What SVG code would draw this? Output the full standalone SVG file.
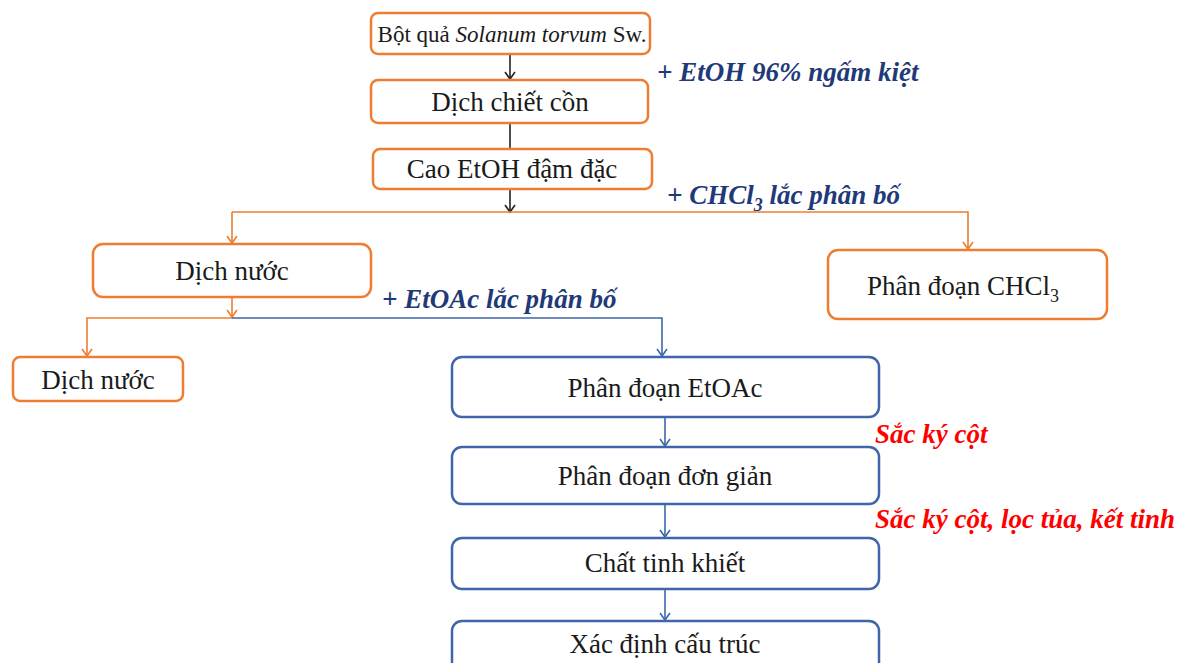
<svg xmlns="http://www.w3.org/2000/svg" width="1185" height="663" viewBox="0 0 1185 663">
<defs>
<style>
.bo{fill:#fff;stroke:#ED7D31;stroke-width:2.5}
.bb{fill:#fff;stroke:#3F66AA;stroke-width:2.5}
.t{font-family:"Liberation Serif",serif;font-size:27px;fill:#1a1a1a;text-anchor:middle}
.lab{font-family:"Liberation Serif",serif;font-size:27px;font-weight:bold;font-style:italic;fill:#1F3A78}
.red{font-family:"Liberation Serif",serif;font-size:27px;font-weight:bold;font-style:italic;fill:#FF0000}
.ck{fill:none;stroke:#222;stroke-width:1.6}
.co{fill:none;stroke:#ED7D31;stroke-width:1.6}
.cb{fill:none;stroke:#3F66AA;stroke-width:1.6}
</style>
<marker id="ak" markerWidth="12" markerHeight="12" refX="6" refY="10" markerUnits="userSpaceOnUse" viewBox="0 0 12 12"><path d="M1,3 L6,10 L11,3" fill="none" stroke="#222" stroke-width="1.6"/></marker>
<marker id="ao" markerWidth="12" markerHeight="12" refX="6" refY="10" markerUnits="userSpaceOnUse" viewBox="0 0 12 12"><path d="M1,3 L6,10 L11,3" fill="none" stroke="#ED7D31" stroke-width="1.6"/></marker>
<marker id="ab" markerWidth="12" markerHeight="12" refX="6" refY="10" markerUnits="userSpaceOnUse" viewBox="0 0 12 12"><path d="M1,3 L6,10 L11,3" fill="none" stroke="#3F66AA" stroke-width="1.6"/></marker>
</defs>
<rect width="1185" height="663" fill="#fff"/>
<g id="connectors">
<path class="ck" d="M510,54 V79" marker-end="url(#ak)"/>
<path class="ck" d="M510,123 V149"/>
<path class="ck" d="M510,189 V212" marker-end="url(#ak)"/>
<path class="co" d="M232,212 H968 V249" marker-end="url(#ao)"/>
<path class="co" d="M232,212 V243" marker-end="url(#ao)"/>
<path class="co" d="M232,297 V317" marker-end="url(#ao)"/>
<path class="co" d="M232,318 H87 V356" marker-end="url(#ao)"/>
<path class="cb" d="M232,318 H662 V356" marker-end="url(#ab)"/>
<path class="cb" d="M665,418 V446" marker-end="url(#ab)"/>
<path class="cb" d="M665,504 V537" marker-end="url(#ab)"/>
<path class="cb" d="M665,589 V620" marker-end="url(#ab)"/>
</g>
<g id="n1"><rect class="bo" x="371" y="13" width="279" height="41" rx="7"/><text class="t" x="512" y="42" style="font-size:23px">Bột quả <tspan font-style="italic">Solanum torvum</tspan> Sw.</text></g>
<g id="n2"><rect class="bo" x="371" y="80" width="277" height="43" rx="7"/><text class="t" x="510" y="111">Dịch chiết cồn</text></g>
<g id="n3"><rect class="bo" x="373" y="149" width="279" height="40" rx="7"/><text class="t" x="512" y="178">Cao EtOH đậm đặc</text></g>
<g id="n4"><rect class="bo" x="93" y="244" width="278" height="53" rx="10"/><text class="t" x="232" y="280">Dịch nước</text></g>
<g id="n5"><rect class="bo" x="828" y="250" width="279" height="69" rx="10"/><text class="t" x="963" y="295">Phân đoạn CHCl<tspan font-size="18" dy="7">3</tspan></text></g>
<g id="n6"><rect class="bo" x="13" y="357" width="170" height="44" rx="7"/><text class="t" x="98" y="389">Dịch nước</text></g>
<g id="n7"><rect class="bb" x="452" y="357" width="427" height="60" rx="10"/><text class="t" x="665" y="397">Phân đoạn EtOAc</text></g>
<g id="n8"><rect class="bb" x="452" y="447" width="427" height="57" rx="10"/><text class="t" x="665" y="485">Phân đoạn đơn giản</text></g>
<g id="n9"><rect class="bb" x="452" y="538" width="427" height="51" rx="10"/><text class="t" x="665" y="572">Chất tinh khiết</text></g>
<g id="n10"><rect class="bb" x="452" y="621" width="427" height="52" rx="10"/><text class="t" x="665" y="653">Xác định cấu trúc</text></g>
<g id="labels">
<text class="lab" x="657" y="81">+ EtOH 96% ngấm kiệt</text>
<text class="lab" x="667" y="204">+ CHCl<tspan font-size="18" dy="7">3</tspan><tspan dy="-7"> lắc phân bố</tspan></text>
<text class="lab" x="382" y="308">+ EtOAc lắc phân bố</text>
<text class="red" x="875" y="443">Sắc ký cột</text>
<text class="red" x="875" y="528">Sắc ký cột, lọc tủa, kết tinh</text>
</g>
</svg>
